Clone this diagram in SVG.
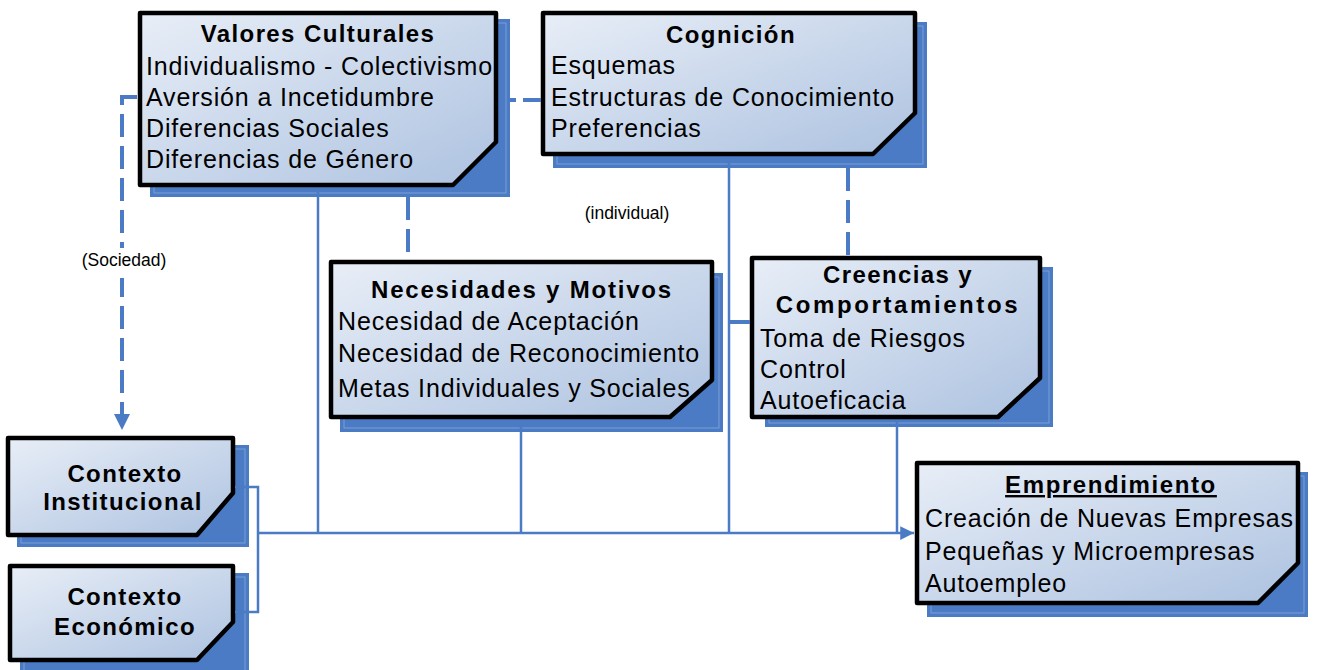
<svg xmlns="http://www.w3.org/2000/svg" width="1318" height="670" viewBox="0 0 1318 670">
<defs>
<linearGradient id="fillg" x1="0" y1="0" x2="1" y2="1">
<stop offset="0" stop-color="#e8eef7"/>
<stop offset="1" stop-color="#adc2e0"/>
</linearGradient>
<marker id="arr" viewBox="0 0 10 10" refX="10" refY="5" markerWidth="5.5" markerHeight="5.5" orient="auto" markerUnits="strokeWidth">
<path d="M0,0 L10,5 L0,10 z" fill="#4a7bc4"/>
</marker>
<marker id="arrD" viewBox="0 0 10 10" refX="10" refY="5" markerWidth="4" markerHeight="4" orient="auto" markerUnits="strokeWidth">
<path d="M0,0 L10,5 L0,10 z" fill="#4a7bc4"/>
</marker>
</defs>
<style>
.sh{fill:#4a7bc4;}
.shi{fill:none;stroke:#9db8e0;stroke-width:1;opacity:0.6;}
.bx{fill:url(#fillg);stroke:#000;stroke-width:4.5;stroke-linejoin:round;}
.t{font-family:"Liberation Sans",Arial,sans-serif;font-size:24px;font-weight:bold;fill:#000;letter-spacing:1.4px;text-anchor:middle;}
.b{font-family:"Liberation Sans",Arial,sans-serif;font-size:25px;fill:#000;letter-spacing:0.85px;}
.lbl{font-family:"Liberation Sans",Arial,sans-serif;font-size:17.5px;fill:#000;text-anchor:middle;}
.thin{fill:none;stroke:#4a7bc4;stroke-width:2.5;}
.dash{fill:none;stroke:#4a7bc4;stroke-width:4;stroke-dasharray:23 9;}
</style>

<g id="valores">
<rect class="sh" x="150" y="19" width="360" height="178"/>
<rect class="shi" x="154" y="23" width="352" height="170"/>
<path class="bx" d="M140,13 H496 V142 L453,185 H140 Z"/>
<text class="t" x="318" y="42">Valores Culturales</text>
<text class="b" x="146" y="75">Individualismo - Colectivismo</text>
<text class="b" x="146" y="106">Aversión a Incetidumbre</text>
<text class="b" x="146" y="137">Diferencias Sociales</text>
<text class="b" x="146" y="168">Diferencias de Género</text>
</g>

<g id="cognicion">
<rect class="sh" x="553" y="22" width="374" height="146"/>
<rect class="shi" x="557" y="26" width="366" height="138"/>
<path class="bx" d="M543,13 H915 V113 L873,154 H543 Z"/>
<text class="t" x="731" y="43">Cognición</text>
<text class="b" x="551" y="74">Esquemas</text>
<text class="b" x="551" y="106">Estructuras de Conocimiento</text>
<text class="b" x="551" y="137">Preferencias</text>
</g>

<g id="necesidades">
<rect class="sh" x="340" y="273" width="383" height="159"/>
<rect class="shi" x="344" y="277" width="375" height="151"/>
<path class="bx" d="M331,262 H712 V380 L670,417 H331 Z"/>
<text class="t" x="522" y="298" style="letter-spacing:1.8px">Necesidades y Motivos</text>
<text class="b" x="338" y="330">Necesidad de Aceptación</text>
<text class="b" x="338" y="362">Necesidad de Reconocimiento</text>
<text class="b" x="338" y="397">Metas Individuales y Sociales</text>
</g>

<g id="creencias">
<rect class="sh" x="765" y="267" width="288" height="160"/>
<rect class="shi" x="769" y="271" width="280" height="152"/>
<path class="bx" d="M752,258 H1040 V378 L998,417 H752 Z"/>
<text class="t" x="898" y="283">Creencias y</text>
<text class="t" x="898" y="313" style="letter-spacing:2.6px">Comportamientos</text>
<text class="b" x="760" y="347">Toma de Riesgos</text>
<text class="b" x="760" y="378">Control</text>
<text class="b" x="760" y="409">Autoeficacia</text>
</g>

<g id="institucional">
<rect class="sh" x="17" y="445" width="232" height="102"/>
<rect class="shi" x="21" y="449" width="224" height="94"/>
<path class="bx" d="M8,438 H233 V493 L197,535 H8 Z"/>
<text class="t" x="125" y="482">Contexto</text>
<text class="t" x="123" y="510">Institucional</text>
</g>

<g id="economico">
<rect class="sh" x="20" y="573" width="229" height="97"/>
<rect class="shi" x="24" y="577" width="221" height="95"/>
<path class="bx" d="M10,566 H233 V622 L197,660 H10 Z"/>
<text class="t" x="125" y="605">Contexto</text>
<text class="t" x="125" y="635">Económico</text>
</g>

<g id="emprendimiento">
<rect class="sh" x="927" y="472" width="381" height="145"/>
<rect class="shi" x="931" y="476" width="373" height="137"/>
<path class="bx" d="M917,463 H1298 V563 L1258,603 H917 Z"/>
<text class="t" x="1111" y="493" text-decoration="underline" style="letter-spacing:1.6px">Emprendimiento</text>
<text class="b" x="925" y="527">Creación de Nuevas Empresas</text>
<text class="b" x="925" y="560">Pequeñas y Microempresas</text>
<text class="b" x="925" y="592">Autoempleo</text>
</g>

<g id="connectors">
<path class="dash" d="M137,97 H122 V430" marker-end="url(#arrD)"/>
<path class="dash" d="M510,100 H541" style="stroke-dasharray:6 7 25 100"/>
<path class="dash" d="M408,197 V259"/>
<path class="dash" d="M848,168 V255"/>
<path class="thin" d="M318,188 V533"/>
<path class="thin" d="M521,420 V533"/>
<path class="thin" d="M729,157 V533"/>
<path class="thin" d="M897,420 V533"/>
<path class="thin" d="M235,487 H258 V612 H235"/>
<path class="thin" d="M258,533 H914" marker-end="url(#arr)"/>
<path fill="none" stroke="#4a7bc4" stroke-width="4" d="M730,322 H750"/>
<rect x="80" y="248" width="88" height="30" fill="#fff"/>
<text class="lbl" x="124" y="266">(Sociedad)</text>
<text class="lbl" x="627" y="219">(individual)</text>
</g>
</svg>
